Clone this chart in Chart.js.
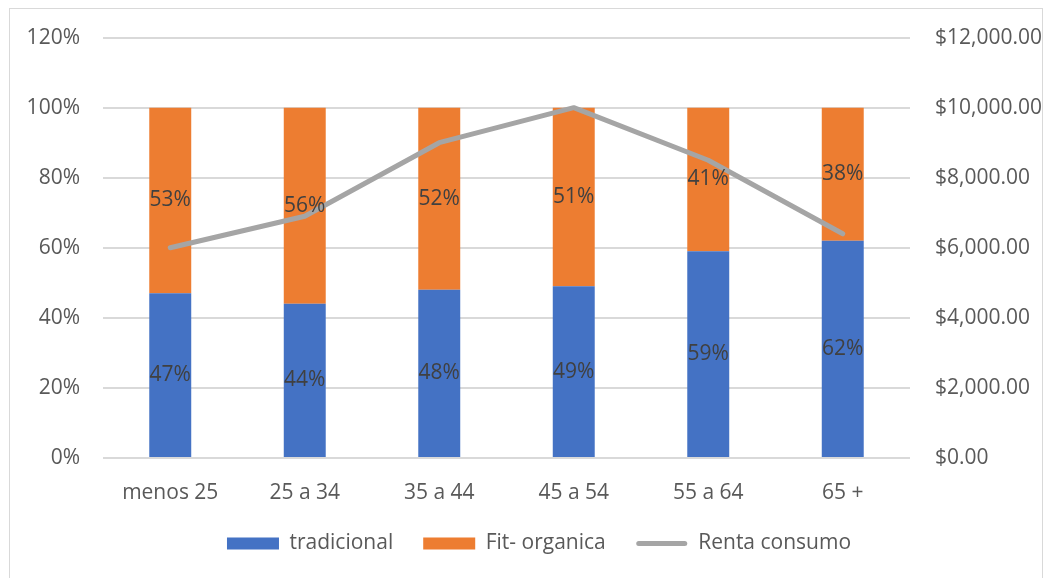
<!DOCTYPE html>
<html>
<head>
<meta charset="utf-8">
<script src="https://cdn.jsdelivr.net/npm/chart.js@4"></script>
<style>
  html, body { margin: 0; padding: 0; background: #ffffff; }
  #wrap { width: 1052px; height: 578px; position: relative; }
</style>
</head>
<body>
<div id="wrap"><canvas id="chart" width="1052" height="578"></canvas></div>
<script>
// Age groups
const categories = ['menos 25', '25 a 34', '35 a 44', '45 a 54', '55 a 64', '65 +'];
// Share of each product type per age group (%)
const tradicional = [47, 44, 48, 49, 59, 62];
const fitOrganica = [53, 56, 52, 51, 41, 38];
// Consumer income per age group ($)
const rentaConsumo = [6000, 6900, 9000, 10000, 8500, 6400];

const FONT = "'Open Sans', 'Noto Sans', sans-serif";
const TICK_COLOR = '#595959';
const FONT_SIZE = 21;

Chart.defaults.font.family = FONT;
Chart.defaults.font.size = FONT_SIZE;
Chart.defaults.color = TICK_COLOR;

// Outer frame and white background
const framePlugin = {
  id: 'frame',
  beforeDraw(chart) {
    const ctx = chart.ctx;
    ctx.save();
    ctx.fillStyle = '#ffffff';
    ctx.fillRect(0, 0, chart.width, chart.height);
    ctx.strokeStyle = '#D9D9D9';
    ctx.lineWidth = 1;
    ctx.strokeRect(9.5, 8.5, chart.width - 19, chart.height + 20);
    ctx.restore();
  }
};

// Percentage labels centred on each stacked segment
const segmentLabels = {
  id: 'segmentLabels',
  afterDatasetsDraw(chart) {
    const ctx = chart.ctx;
    ctx.save();
    ctx.font = FONT_SIZE + 'px ' + FONT;
    ctx.fillStyle = '#404040';
    ctx.textAlign = 'center';
    ctx.textBaseline = 'middle';
    [0, 1].forEach(di => {
      const meta = chart.getDatasetMeta(di);
      const values = chart.data.datasets[di].data;
      meta.data.forEach((bar, i) => {
        const p = bar.getProps(['x', 'y', 'base'], true);
        ctx.fillText(values[i] + '%', p.x, (p.y + p.base) / 2);
      });
    });
    ctx.restore();
  }
};

// Legend marker for the line series: a thick rounded stroke
const lineLegendMarker = {
  id: 'lineLegendMarker',
  afterDraw(chart) {
    const legend = chart.legend;
    if (!legend || !legend.legendItems) return;
    const ctx = chart.ctx;
    legend.legendItems.forEach((item, i) => {
      if (item.datasetIndex !== 2) return;
      const hb = legend.legendHitBoxes[i];
      const y = hb.top + hb.height / 2;
      ctx.save();
      ctx.strokeStyle = '#A5A5A5';
      ctx.lineWidth = 5;
      ctx.lineCap = 'round';
      ctx.beginPath();
      ctx.moveTo(hb.left + 3, y);
      ctx.lineTo(hb.left + 52 - 3, y);
      ctx.stroke();
      ctx.restore();
    });
  }
};

new Chart(document.getElementById('chart'), {
  type: 'bar',
  data: {
    labels: categories,
    datasets: [
      {
        label: 'tradicional',
        data: tradicional,
        backgroundColor: '#4472C4',
        stack: 'share',
        yAxisID: 'y',
        order: 1,
        categoryPercentage: 1,
        barPercentage: 0.312
      },
      {
        label: 'Fit- organica',
        data: fitOrganica,
        backgroundColor: '#ED7D31',
        stack: 'share',
        yAxisID: 'y',
        order: 1,
        categoryPercentage: 1,
        barPercentage: 0.312
      },
      {
        type: 'line',
        label: 'Renta consumo',
        data: rentaConsumo,
        borderColor: '#A5A5A5',
        backgroundColor: '#A5A5A5',
        borderWidth: 5,
        borderJoinStyle: 'round',
        borderCapStyle: 'round',
        pointRadius: 0,
        tension: 0,
        fill: false,
        yAxisID: 'y1',
        order: 0
      }
    ]
  },
  options: {
    responsive: false,
    animation: false,
    devicePixelRatio: 1,
    layout: { padding: { top: 33, left: 26, right: 0, bottom: 14 } },
    plugins: {
      tooltip: { enabled: false },
      legend: {
        position: 'bottom',
        labels: {
          boxWidth: 52,
          boxHeight: 12,
          padding: 30,
          color: TICK_COLOR,
          font: { size: FONT_SIZE, family: FONT },
          sort: (a, b) => a.datasetIndex - b.datasetIndex,
          generateLabels(chart) {
            const items = Chart.defaults.plugins.legend.labels.generateLabels(chart);
            items.forEach(it => {
              it.lineWidth = 0;
              if (it.datasetIndex === 2) {
                it.fillStyle = 'rgba(0,0,0,0)';
                it.strokeStyle = 'rgba(0,0,0,0)';
              }
            });
            return items;
          }
        }
      }
    },
    scales: {
      x: {
        stacked: true,
        grid: { display: false },
        border: { display: false },
        ticks: { color: TICK_COLOR, padding: 14, font: { size: FONT_SIZE } },
        afterFit(s) { s.height = 45; }
      },
      y: {
        stacked: true,
        position: 'left',
        min: 0,
        max: 120,
        ticks: {
          stepSize: 20,
          padding: 23,
          color: TICK_COLOR,
          callback: v => v + '%'
        },
        grid: { color: '#D9D9D9', lineWidth: 2, drawTicks: false },
        border: { display: false },
        afterFit(s) { s.width = 77; }
      },
      y1: {
        position: 'right',
        min: 0,
        max: 12000,
        ticks: {
          stepSize: 2000,
          padding: 25,
          color: TICK_COLOR,
          callback: v => '$' + v.toLocaleString('en-US', { minimumFractionDigits: 2, maximumFractionDigits: 2 })
        },
        grid: { drawOnChartArea: false, drawTicks: false },
        border: { display: false },
        afterFit(s) { s.width = 142; }
      }
    }
  },
  plugins: [framePlugin, segmentLabels, lineLegendMarker]
});
</script>
</body>
</html>
